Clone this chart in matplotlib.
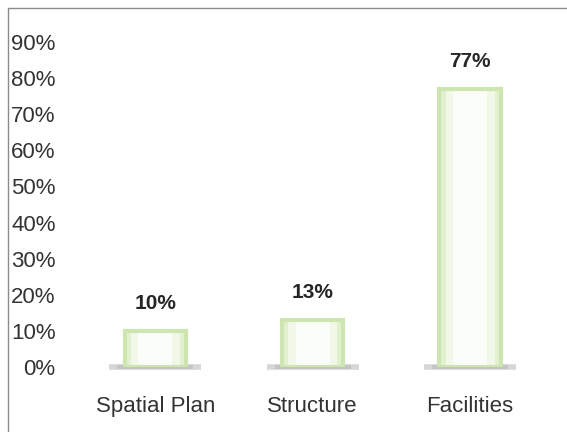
import matplotlib.pyplot as plt
from matplotlib.patches import Rectangle
from matplotlib.ticker import FuncFormatter

categories = ["Spatial Plan", "Structure", "Facilities"]
values = [10, 13, 77]
yticks = [0, 10, 20, 30, 40, 50, 60, 70, 80, 90]

plt.rcParams['font.family'] = ['Liberation Sans', 'DejaVu Sans']

fig = plt.figure(figsize=(5.67, 4.32), dpi=100)
ax = fig.add_axes([0.135, 0.150, 0.833, 0.753])

x = range(len(categories))
w = 0.39

# soft shadow under each bar
for xi in x:
    ax.plot([xi - w * 0.75, xi + w * 0.75], [0, 0], color="#d6d6d6", lw=4,
            solid_capstyle="butt", zorder=1, clip_on=False)
    ax.plot([xi - w * 0.62, xi + w * 0.62], [0, 0], color="#c4c4c4", lw=3,
            solid_capstyle="butt", zorder=1, clip_on=False)

# bars: green gradient-ish border with pale centre
ax.bar(x, values, width=w, color="#e2f0d0", edgecolor="none", zorder=2)
ax.bar(x, values, width=w * 0.8, color="#f1f8e8", edgecolor="none", zorder=3)
ax.bar(x, values, width=w * 0.55, color="#fbfdf8", edgecolor="none", zorder=3)
ax.bar(x, values, width=w, color="none", edgecolor="#cde5b0", lw=3, zorder=4)

for xi, v in zip(x, values):
    ax.annotate(f"{v}%", (xi, v), xytext=(0, 20), textcoords="offset points",
                ha="center", va="center", fontsize=15, fontweight="bold",
                color="#262626", annotation_clip=False)

ax.set_xlim(-0.5, 2.5)
ax.set_ylim(0, 90)
ax.set_yticks(yticks)
ax.yaxis.set_major_formatter(FuncFormatter(lambda v, p: f"{v:.0f}%"))
ax.set_xticks(list(x))
ax.set_xticklabels(categories)
ax.tick_params(axis="both", length=0, labelsize=16, labelcolor="#333333")
ax.tick_params(axis="y", pad=15)
ax.tick_params(axis="x", pad=21)
for s in ax.spines.values():
    s.set_visible(False)

# thin frame around the picture
fig.patches.append(Rectangle((8 / 567, -0.1), 1.2, 1.1 - 8 / 432,
                             transform=fig.transFigure, fill=False,
                             edgecolor="#8c8c8c", lw=1))

fig.savefig("out.png", dpi=100)
